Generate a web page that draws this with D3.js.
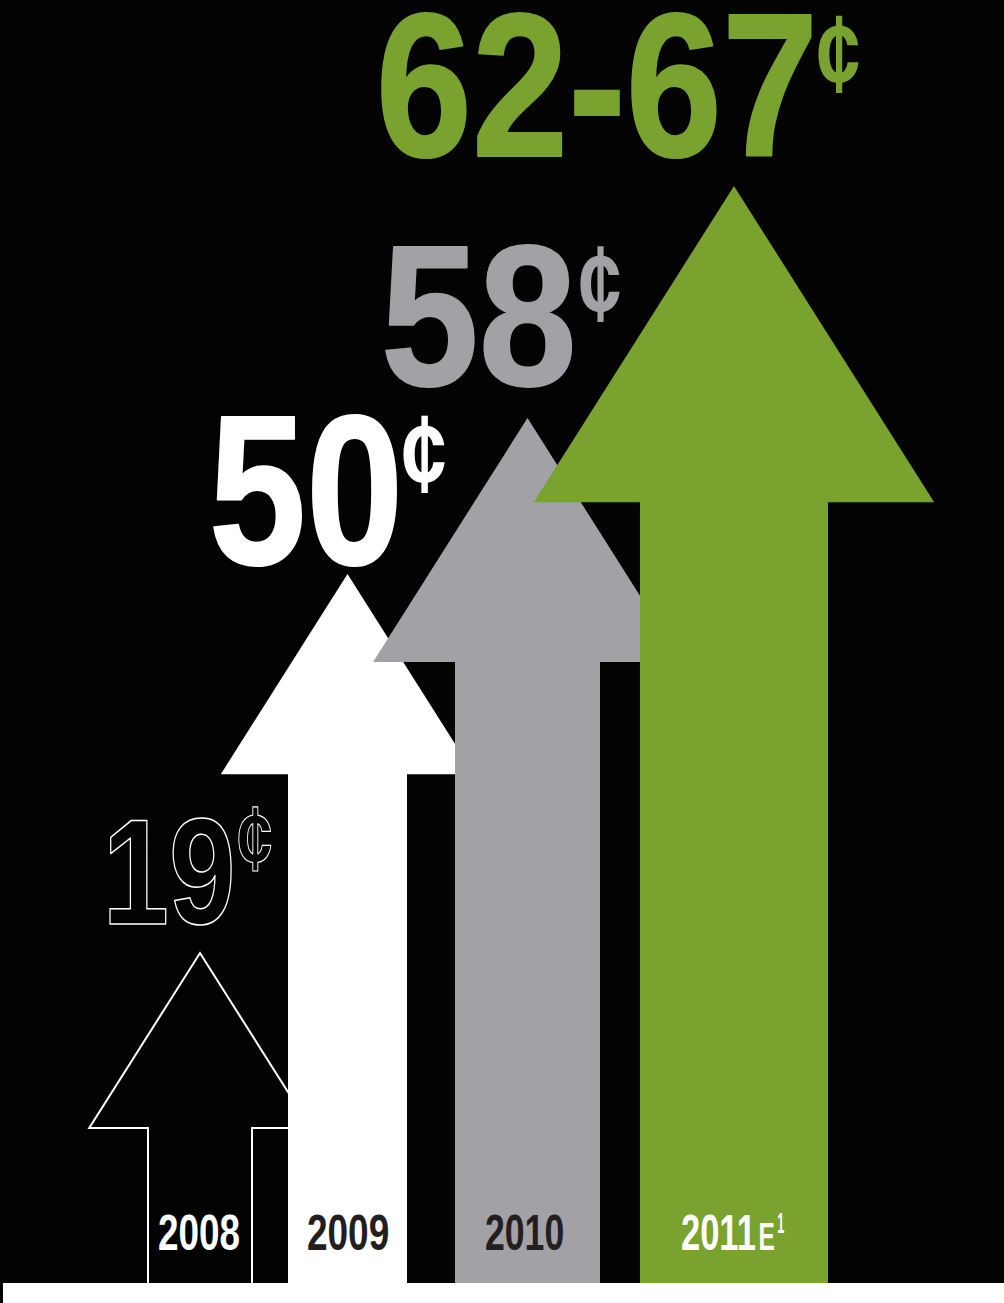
<!DOCTYPE html>
<html><head><meta charset="utf-8">
<script src="https://cdn.jsdelivr.net/npm/d3@7"></script>
<style>html,body{margin:0;padding:0;background:#fff;} svg{display:block;}</style>
</head><body><div id="chart"></div>
<script>
// ---- data ----
const years = ["2008", "2009", "2010", "2011"];
const yearSuffix = ["", "", "", "E"];
const yearNote = ["", "", "", "1"];
const lowCents = [19, 50, 58, 62];
const highCents = [19, 50, 58, 67];
const valueLabels = ["19", "50", "58", "62-67"];
const unitLabel = "¢";

// ---- layout ----
const W = 1004, H = 1303, base = 1283;
const BG = "#030304";
const arrowFill = [BG, "#ffffff", "#a2a1a6", "#79a22f"];
const arrowStroke = ["#ffffff", "none", "none", "none"];
const labelFill = [BG, "#ffffff", "#a2a1a6", "#79a22f"];
const labelStroke = ["#ffffff", "#ffffff", "#a2a1a6", "#79a22f"];
const labelStrokeW = [1.5, 2, 2, 2];
const yearFill = ["#ffffff", "#231f20", "#231f20", "#ffffff"];
const FAM = "'Liberation Sans',Arial,'DejaVu Sans',sans-serif";

const mid = lowCents.map((v, i) => (v + highCents[i]) / 2);
// infographic sizing (non-proportional) through d3 scales
const lengthScale = d3.scaleLinear().domain(mid).range([330, 709, 865, 1097]);
const shaftScale = d3.scaleLinear().domain(mid).range([104, 119, 145, 188]);
const headRatio = 2.13, headAspect = 0.79, firstLeft = 148;
const gaps = [36, 48, 40];

const arrows = [];
let left = firstLeft;
mid.forEach((v, i) => {
  const sw = shaftScale(v);
  const c = left + sw / 2;
  const hw = sw * headRatio, hh = hw * headAspect;
  const tip = base - lengthScale(v);
  arrows.push({i, c, sw, hw, hh, tip});
  left += sw + (gaps[i] || 0);
});

const svg = d3.select("#chart").append("svg").attr("width", W).attr("height", H);
svg.append("rect").attr("width", W).attr("height", H).attr("fill", BG);
svg.append("rect").attr("x", 3).attr("y", base).attr("width", W - 3).attr("height", H - base).attr("fill", "#ffffff");

const g = svg.append("g");
arrows.forEach(a => {
  const p = d3.path();
  p.moveTo(a.c - a.sw / 2, base);
  p.lineTo(a.c - a.sw / 2, a.tip + a.hh);
  p.lineTo(a.c - a.hw / 2, a.tip + a.hh);
  p.lineTo(a.c, a.tip);
  p.lineTo(a.c + a.hw / 2, a.tip + a.hh);
  p.lineTo(a.c + a.sw / 2, a.tip + a.hh);
  p.lineTo(a.c + a.sw / 2, base);
  g.append("path").attr("d", p.toString())
    .attr("fill", arrowFill[a.i])
    .attr("stroke", arrowStroke[a.i]).attr("stroke-width", 2)
    .attr("stroke-linejoin", "miter");
});

// ---- text fitting via canvas ink metrics ----
const ctx = document.createElement("canvas").getContext("2d");
function fit(sel, str, weight, box, fill, stroke, sw) {
  ctx.font = `${weight} 100px ${FAM}`;
  const m = ctx.measureText(str);
  const inkH = m.actualBoundingBoxAscent + m.actualBoundingBoxDescent;
  const inkW = m.actualBoundingBoxLeft + m.actualBoundingBoxRight;
  const s2 = (sw || 0) / 2;
  const bx0 = box.x0 + s2, bx1 = box.x1 - s2, by0 = box.y0 + s2, by1 = box.y1 - s2;
  const size = 100 * (by1 - by0) / inkH;
  const k = size / 100;
  const sx = (bx1 - bx0) / (inkW * k);
  const ox = bx0 + m.actualBoundingBoxLeft * k * sx;
  const oy = by0 + m.actualBoundingBoxAscent * k;
  return sel.append("text")
    .attr("transform", `translate(${ox},${oy}) scale(${sx},1)`)
    .attr("font-family", FAM).attr("font-weight", weight)
    .attr("font-size", size).attr("fill", fill)
    .attr("stroke", stroke || "none").attr("stroke-width", sw || 0)
    .attr("stroke-linejoin", "round")
    .text(str);
}

// label boxes relative to arrow centre (x) and tip (y)
const numBox = [
  {x0: -91, x1: 32, y0: -135, y1: -27},
  {x0: -134.5, x1: 50.5, y0: -160, y1: -7},
  {x0: -142.5, x1: 45.5, y0: -175, y1: -30},
  {x0: -354, x1: 79, y0: -174, y1: -27}
];
const centBox = [
  {x0: 38, x1: 72, y0: -147, y1: -81},
  {x0: 55.5, x1: 97.5, y0: -159, y1: -81},
  {x0: 52.5, x1: 92.5, y0: -173, y1: -96},
  {x0: 84, x1: 125, y0: -171, y1: -93}
];
const yearW = [80, 80, 77, 73];
const yearDx = [-1, 0.5, -3, 0];

const tg = svg.append("g");
arrows.forEach(a => {
  const nb = numBox[a.i], cb = centBox[a.i];
  const shift = b => ({x0: a.c + b.x0, x1: a.c + b.x1, y0: a.tip + b.y0, y1: a.tip + b.y1});
  fit(tg, valueLabels[a.i], "bold", shift(nb), labelFill[a.i], labelStroke[a.i], labelStrokeW[a.i]);
  fit(tg, unitLabel, "bold", shift(cb), labelFill[a.i], labelStroke[a.i], a.i === 0 ? 1.2 : 0);

  const w = yearW[a.i];
  let x0 = a.c + yearDx[a.i] - w / 2;
  if (yearSuffix[a.i]) x0 = a.c - 52;
  fit(tg, years[a.i], "bold", {x0: x0, x1: x0 + w, y0: base - 68, y1: base - 33}, yearFill[a.i]);
  if (yearSuffix[a.i]) {
    fit(tg, yearSuffix[a.i], "bold", {x0: x0 + w + 5, x1: x0 + w + 19, y0: base - 60, y1: base - 33}, yearFill[a.i]);
    fit(tg, yearNote[a.i], "bold", {x0: x0 + w + 23, x1: x0 + w + 29, y0: base - 71, y1: base - 50}, yearFill[a.i]);
  }
});
</script>
</body></html>
